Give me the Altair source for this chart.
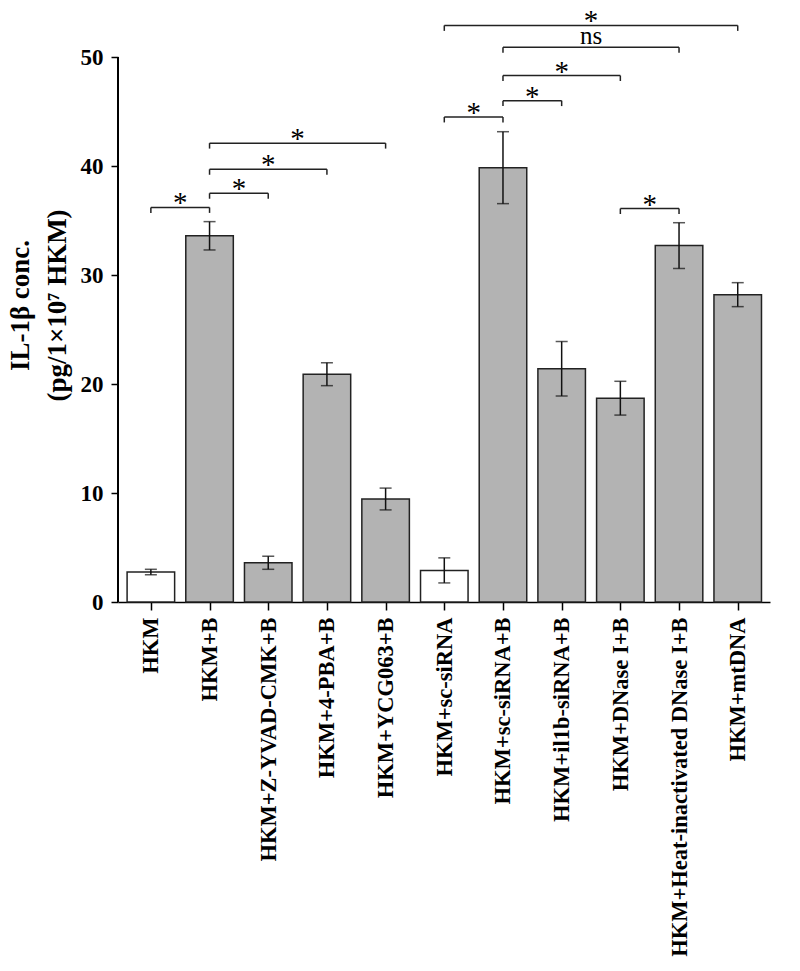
import json
import altair as alt
import pandas as pd

categories = ["HKM", "HKM+B", "HKM+Z-YVAD-CMK+B", "HKM+4-PBA+B", "HKM+YCG063+B",
              "HKM+sc-siRNA", "HKM+sc-siRNA+B", "HKM+il1b-siRNA+B", "HKM+DNase I+B",
              "HKM+Heat-inactivated DNase I+B", "HKM+mtDNA"]
means = [2.75, 33.6, 3.6, 20.9, 9.45, 2.9, 39.85, 21.4, 18.7, 32.7, 28.2]
errors = [0.25, 1.3, 0.6, 1.05, 1.0, 1.15, 3.3, 2.5, 1.55, 2.1, 1.1]
groups = ["control", "treated", "treated", "treated", "treated", "control",
          "treated", "treated", "treated", "treated", "treated"]

bracket_left = [0, 1, 1, 1, 5, 6, 6, 6, 5, 8]
bracket_right = [1, 2, 3, 4, 6, 7, 8, 9, 10, 9]
bracket_height = [36.2, 37.5, 39.7, 42.1, 44.5, 46.0, 48.3, 50.9, 52.9, 36.1]
bracket_label = ["*", "*", "*", "*", "*", "*", "*", "ns", "*", "*"]

y_ticks = [0, 10, 20, 30, 40, 50]

bars_df = pd.DataFrame({
    "idx": list(range(len(categories))),
    "category": categories,
    "mean": means,
    "err": errors,
    "group": groups,
})
br_df = pd.DataFrame({
    "left": bracket_left,
    "right": bracket_right,
    "h": bracket_height,
    "label": bracket_label,
})

FONT = "Liberation Serif"
xscale = alt.Scale(domain=[-0.56, 10.55], nice=False, zero=False)
yscale = alt.Scale(domain=[0, 54.5], nice=False)

x_axis = alt.Axis(
    values=list(range(len(categories))),
    labelExpr=f"{json.dumps(categories)}[datum.value]",
    labelAngle=-90, labelAlign="right", labelBaseline="middle",
    labelFont=FONT, labelFontWeight="bold", labelFontSize=22.5, labelColor="black",
    labelFlush=False, labelOverlap=False, labelBound=False, labelLimit=0,
    tickSize=8, tickColor="black", tickWidth=1.5,
    domainColor="black", domainWidth=1.5, labelPadding=7,
    grid=False, title=None,
)
y_axis = alt.Axis(
    values=y_ticks, domain=False, grid=False,
    tickSize=7, tickColor="black", tickWidth=1.5,
    labelFont=FONT, labelFontWeight="bold", labelFontSize=23, labelColor="black",
    labelPadding=8,
    title=["IL-1β conc.", "(pg/1×10⁷ HKM)"],
    titleFont=FONT, titleFontWeight="bold", titleFontSize=27, titleColor="black",
    titleLineHeight=37, titlePadding=9,
)

base = alt.Chart(bars_df).transform_calculate(
    lo="datum.mean - datum.err",
    hi="datum.mean + datum.err",
    xa="datum.idx - 0.405",
    xb="datum.idx + 0.405",
)

bars = base.mark_bar(stroke="#222222", strokeWidth=1.5).encode(
    x=alt.X("xa:Q", scale=xscale, axis=x_axis),
    x2="xb:Q",
    y=alt.Y("mean:Q", scale=yscale, axis=y_axis),
    y2=alt.datum(0),
    fill=alt.Fill("group:N", scale=alt.Scale(domain=["control", "treated"],
                                              range=["#ffffff", "#b3b3b3"]),
                  legend=None),
)
err_rule = base.mark_rule(color="#111111", strokeWidth=1.5).encode(
    x="idx:Q", y="lo:Q", y2="hi:Q")
cap_top = base.mark_tick(color="#111111", orient="horizontal", size=12,
                         thickness=1.5).encode(x="idx:Q", y="hi:Q")
cap_bot = base.mark_tick(color="#111111", orient="horizontal", size=12,
                         thickness=1.5).encode(x="idx:Q", y="lo:Q")

yaxis_line = alt.Chart(bars_df).mark_rule(color="black", strokeWidth=1.5).encode(
    x=alt.value(0), y=alt.datum(0), y2=alt.datum(50))

br = alt.Chart(br_df).transform_calculate(
    mid="(datum.left + datum.right) / 2",
    drop="datum.h - 0.5",
)
br_h = br.mark_rule(color="#222222", strokeWidth=1.5).encode(
    x="left:Q", x2="right:Q", y="h:Q")
br_drops = br.transform_fold(["left", "right"], as_=["side", "pos"]).mark_rule(
    color="#222222", strokeWidth=1.5).encode(x="pos:Q", y="h:Q", y2="drop:Q")
stars = br.transform_filter("datum.label == '*'").mark_text(
    font=FONT, fontSize=29, baseline="alphabetic", align="center", dy=5,
    color="black").encode(x="mid:Q", y="h:Q", text="label:N")
ns_text = br.transform_filter("datum.label == 'ns'").mark_text(
    font=FONT, fontSize=25, baseline="alphabetic", align="center", dy=-3,
    color="black").encode(x="mid:Q", y="h:Q", text="label:N")

chart = alt.layer(
    bars, err_rule, cap_top, cap_bot, yaxis_line, br_h, br_drops, stars, ns_text
).properties(
    width=652, height=594, autosize=alt.AutoSizeParams(type="none"),
    padding={"left": 110, "top": 0, "right": 22, "bottom": 363},
).configure_view(stroke=None)

chart.save("out.html", embed_options={"renderer": "svg", "actions": False})
